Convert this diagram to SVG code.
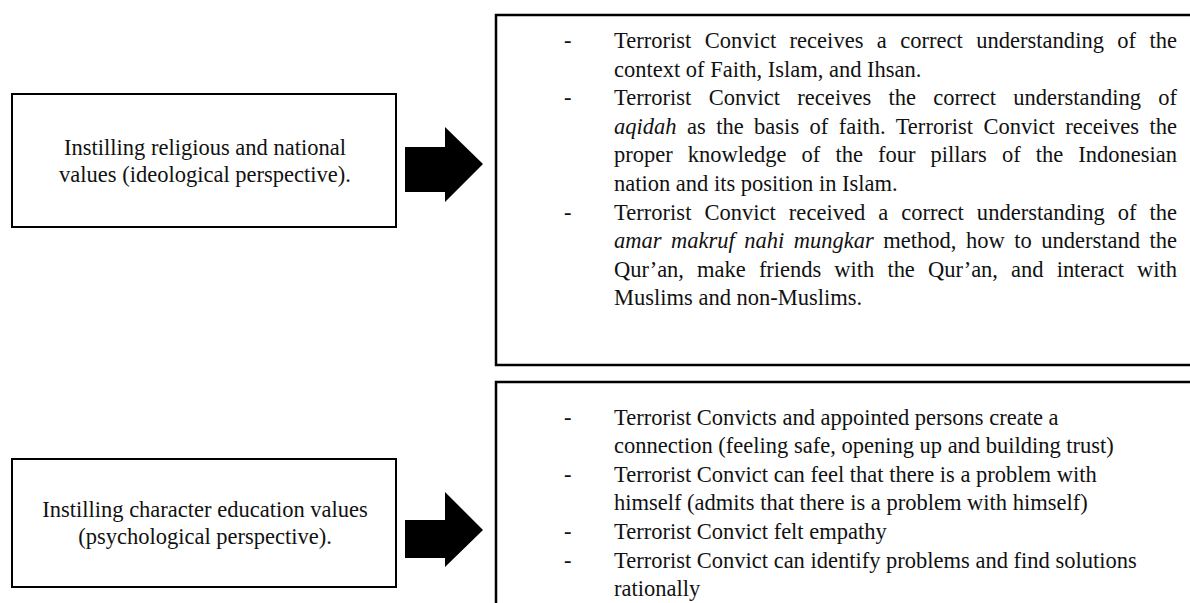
<svg xmlns="http://www.w3.org/2000/svg" width="1190" height="603" viewBox="0 0 1190 603">
<style>
.box{fill:#fff;stroke:#000;stroke-width:2}
.rbox{fill:#fff;stroke:#000;stroke-width:2.5}
text{font-family:"Liberation Serif","Times New Roman",serif;font-size:22.5px;fill:#111}
.c{text-anchor:middle}
.i{font-style:italic}
.arrow{fill:#000}
</style>
<rect width="1190" height="603" fill="#fff"/>
<g id="node-ideological">
<rect class="box" x="12" y="94" width="384" height="133"/>
<text class="c" x="205" y="155">Instilling religious and national</text>
<text class="c" x="205" y="182">values (ideological perspective).</text>
</g>
<g id="node-ideological-outcomes">
<rect class="rbox" x="496" y="15" width="710" height="350"/>
<text x="564" y="48">-</text>
<text x="614" y="48" word-spacing="7.7" textLength="563" lengthAdjust="spacing">Terrorist Convict receives a correct understanding of the</text>
<text x="614" y="77">context of Faith, Islam, and Ihsan.</text>
<text x="564" y="105">-</text>
<text x="614" y="105" word-spacing="11.6" textLength="563" lengthAdjust="spacing">Terrorist Convict receives the correct understanding of</text>
<text x="614" y="134" word-spacing="4.7" textLength="563" lengthAdjust="spacing"><tspan class="i">aqidah</tspan> as the basis of faith. Terrorist Convict receives the</text>
<text x="614" y="162" word-spacing="9.5" textLength="563" lengthAdjust="spacing">proper knowledge of the four pillars of the Indonesian</text>
<text x="614" y="191">nation and its position in Islam.</text>
<text x="564" y="220">-</text>
<text x="614" y="220" word-spacing="7.3" textLength="563" lengthAdjust="spacing">Terrorist Convict received a correct understanding of the</text>
<text x="614" y="248" word-spacing="3.9" textLength="563" lengthAdjust="spacing"><tspan class="i">amar makruf nahi mungkar</tspan> method, how to understand the</text>
<text x="614" y="277" word-spacing="7.6" textLength="563" lengthAdjust="spacing">Qur’an, make friends with the Qur’an, and interact with</text>
<text x="614" y="305">Muslims and non-Muslims.</text>
</g>
<g id="node-psychological">
<rect class="box" x="12" y="459" width="384" height="128"/>
<text class="c" x="205" y="517">Instilling character education values</text>
<text class="c" x="205" y="544">(psychological perspective).</text>
</g>
<g id="node-psychological-outcomes">
<rect class="rbox" x="496" y="382" width="710" height="260"/>
<text x="564" y="425">-</text>
<text x="614" y="425">Terrorist Convicts and appointed persons create a</text>
<text x="614" y="453">connection (feeling safe, opening up and building trust)</text>
<text x="564" y="482">-</text>
<text x="614" y="482">Terrorist Convict can feel that there is a problem with</text>
<text x="614" y="510">himself (admits that there is a problem with himself)</text>
<text x="564" y="539">-</text>
<text x="614" y="539">Terrorist Convict felt empathy</text>
<text x="564" y="568">-</text>
<text x="614" y="568">Terrorist Convict can identify problems and find solutions</text>
<text x="614" y="596">rationally</text>
</g>
<g id="connectors">
<polygon class="arrow" points="405,147 445,147 445,127 483,164 445,202 445,192 405,192"/>
<polygon class="arrow" points="405,520 445,520 445,492 483,530 445,567 445,558 405,558"/>
</g>
</svg>
